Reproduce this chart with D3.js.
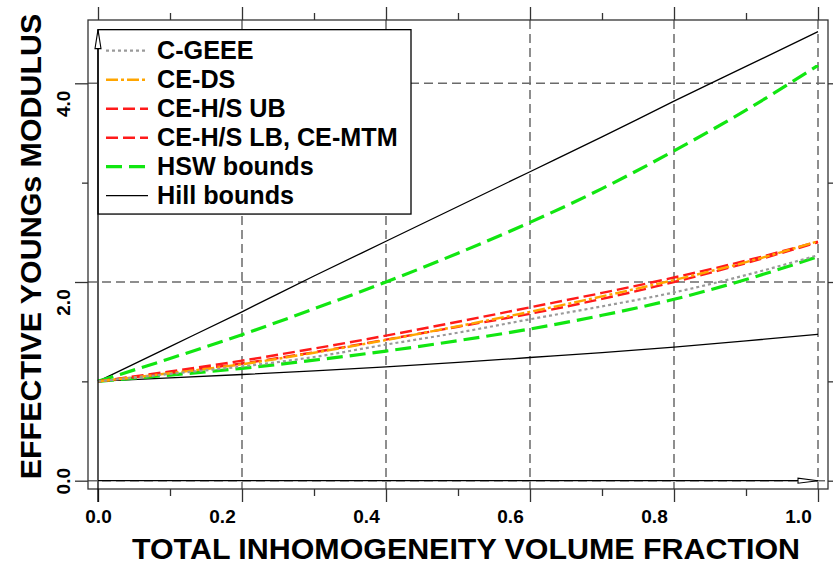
<!DOCTYPE html>
<html>
<head>
<meta charset="utf-8">
<script src="https://cdn.jsdelivr.net/npm/d3@7"></script>
<style>
  html, body { margin: 0; padding: 0; background: #fff; }
  svg { display: block; font-family: "Liberation Sans", Arial, Helvetica, sans-serif; font-weight: bold; }
</style>
</head>
<body>
<svg id="chart" width="833" height="564"></svg>
<script>
// Volume fraction of the inhomogeneities
const fraction = [0, 0.1, 0.2, 0.3, 0.4, 0.5, 0.6, 0.7, 0.8, 0.9, 1.0];

// Effective Young's modulus estimates and bounds
const cGEEE     = [1.00, 1.075, 1.150, 1.245, 1.370, 1.490, 1.625, 1.755, 1.895, 2.070, 2.270];
const ceDS      = [1.00, 1.082, 1.172, 1.288, 1.416, 1.555, 1.700, 1.855, 2.020, 2.200, 2.410];
const ceHSUB    = [1.00, 1.100, 1.208, 1.330, 1.460, 1.600, 1.745, 1.890, 2.045, 2.215, 2.406];
const ceHSLB    = [1.00, 1.085, 1.180, 1.293, 1.420, 1.550, 1.680, 1.830, 2.000, 2.190, 2.400];
const hswUpper  = [1.00, 1.230, 1.470, 1.730, 2.000, 2.290, 2.600, 2.940, 3.320, 3.730, 4.180];
const hswLower  = [1.00, 1.063, 1.131, 1.213, 1.305, 1.410, 1.527, 1.665, 1.826, 2.025, 2.255];
const hillUpper = [1.00, 1.350, 1.700, 2.060, 2.410, 2.760, 3.110, 3.460, 3.820, 4.170, 4.520];
const hillLower = [1.00, 1.034, 1.069, 1.106, 1.146, 1.190, 1.240, 1.290, 1.345, 1.407, 1.474];

// Axis ticks
const xMajor = [0, 0.2, 0.4, 0.6, 0.8, 1.0];
const xMinor = [0.1, 0.3, 0.5, 0.7, 0.9];
const yMajor = [0, 2, 4];
const yMinor = [1, 3];
const yArrowTop = 4.54;

const legendLabels = ["C-GEEE", "CE-DS", "CE-H/S UB", "CE-H/S LB, CE-MTM", "HSW bounds", "Hill bounds"];

const styleOf = {
  "C-GEEE":            { color: "#9a9a9a", width: 2.2, dash: "3,3" },
  "CE-DS":             { color: "#ffa500", width: 2.4, dash: "12,3,3,3" },
  "CE-H/S UB":         { color: "#ff1a1a", width: 2.4, dash: "12,5" },
  "CE-H/S LB, CE-MTM": { color: "#ff1a1a", width: 2.4, dash: "12,5" },
  "HSW bounds":        { color: "#11e611", width: 3.2, dash: "16,7" },
  "Hill bounds":       { color: "#000",    width: 1.3, dash: null }
};

const series = [
  { name: "Hill bounds", values: hillUpper },
  { name: "Hill bounds", values: hillLower },
  { name: "HSW bounds", values: hswUpper },
  { name: "HSW bounds", values: hswLower },
  { name: "CE-H/S UB", values: ceHSUB },
  { name: "CE-H/S LB, CE-MTM", values: ceHSLB },
  { name: "CE-DS", values: ceDS },
  { name: "C-GEEE", values: cGEEE }
];

const svg = d3.select("#chart");

const frame = { left: 88, right: 828, top: 20, bottom: 489 };
const x = d3.scaleLinear().domain([0, 1]).range([98, 818]);
const y = d3.scaleLinear().domain([0, 4]).range([480.7, 83.3]);

const gridColor = "#6a6a6a";

// Dashed grid
svg.append("g").selectAll("line").data(xMajor.filter(d => d > 0)).join("line")
  .attr("x1", d => x(d)).attr("x2", d => x(d))
  .attr("y1", frame.top).attr("y2", frame.bottom)
  .attr("stroke", gridColor).attr("stroke-width", 1.5).attr("stroke-dasharray", "9,5");
svg.append("g").selectAll("line").data(yMajor).join("line")
  .attr("x1", frame.left).attr("x2", frame.right)
  .attr("y1", d => y(d)).attr("y2", d => y(d))
  .attr("stroke", gridColor).attr("stroke-width", 1.5).attr("stroke-dasharray", "9,5");

// Frame
svg.append("rect")
  .attr("x", frame.left).attr("y", frame.top)
  .attr("width", frame.right - frame.left).attr("height", frame.bottom - frame.top)
  .attr("fill", "none").attr("stroke", "#333").attr("stroke-width", 1.3);

function styleAxis(g) {
  g.select(".domain").remove();
  g.selectAll(".tick line").attr("stroke", "#333").attr("stroke-width", 1.3);
}

// Bottom axis with labels
const bottom = svg.append("g").attr("transform", `translate(0,${frame.bottom})`)
  .call(d3.axisBottom(x).tickValues(xMajor).tickSize(13).tickFormat(d3.format(".1f")))
  .call(styleAxis);
bottom.selectAll(".tick text")
  .attr("y", 33.7).attr("dy", null)
  .attr("x", d => d > 0 ? -20 : 0)
  .attr("fill", "#000")
  .style("font-size", "19px").style("font-weight", "bold")
  .style("font-family", "'Liberation Sans', Arial, sans-serif");
svg.append("g").attr("transform", `translate(0,${frame.bottom})`)
  .call(d3.axisBottom(x).tickValues(xMinor).tickSize(7).tickFormat(""))
  .call(styleAxis);

// Top axis
svg.append("g").attr("transform", `translate(0,${frame.top})`)
  .call(d3.axisTop(x).tickValues(xMajor).tickSize(13).tickFormat(""))
  .call(styleAxis);
svg.append("g").attr("transform", `translate(0,${frame.top})`)
  .call(d3.axisTop(x).tickValues(xMinor).tickSize(7).tickFormat(""))
  .call(styleAxis);

// Left axis with rotated labels
const left = svg.append("g").attr("transform", `translate(${frame.left},0)`)
  .call(d3.axisLeft(y).tickValues(yMajor).tickSize(13).tickFormat(d3.format(".1f")))
  .call(styleAxis);
left.selectAll(".tick text")
  .attr("x", 0).attr("y", 0).attr("dy", null)
  .attr("text-anchor", "middle")
  .attr("transform", d => `translate(${69.5 - frame.left},${d > 0 ? 20 : 0}) rotate(-90)`)
  .attr("fill", "#000")
  .style("font-size", "19px").style("font-weight", "bold")
  .style("font-family", "'Liberation Sans', Arial, sans-serif");
svg.append("g").attr("transform", `translate(${frame.left},0)`)
  .call(d3.axisLeft(y).tickValues(yMinor).tickSize(6).tickFormat(""))
  .call(styleAxis);

// Right axis
svg.append("g").attr("transform", `translate(${frame.right},0)`)
  .call(d3.axisRight(y).tickValues(yMajor).tickSize(13).tickFormat(""))
  .call(styleAxis);
svg.append("g").attr("transform", `translate(${frame.right},0)`)
  .call(d3.axisRight(y).tickValues(yMinor).tickSize(6).tickFormat(""))
  .call(styleAxis);

// Curves
const line = d3.line().x((d, i) => x(fraction[i])).y(d => y(d)).curve(d3.curveMonotoneX);
svg.append("g").selectAll("path").data(series).join("path")
  .attr("d", d => line(d.values))
  .attr("fill", "none")
  .attr("stroke", d => styleOf[d.name].color)
  .attr("stroke-width", d => styleOf[d.name].width)
  .attr("stroke-dasharray", d => styleOf[d.name].dash);

// Legend
const legend = svg.append("g");
legend.append("rect")
  .attr("x", x(0)).attr("y", y(yArrowTop))
  .attr("width", 313).attr("height", 184.4)
  .attr("fill", "#fff").attr("stroke", "#000").attr("stroke-width", 1.3);
const rows = legend.selectAll("g.row").data(legendLabels).join("g")
  .attr("transform", (d, i) => `translate(0,${59.3 + 29 * i})`);
rows.append("line")
  .attr("x1", 106).attr("x2", 148).attr("y1", -8.6).attr("y2", -8.6)
  .attr("stroke", d => styleOf[d].color)
  .attr("stroke-width", d => styleOf[d].width)
  .attr("stroke-dasharray", d => styleOf[d].dash);
rows.append("text")
  .attr("x", 157).attr("y", 0)
  .style("font-size", "25.2px")
  .text(d => d);

// Axis arrows
const arrow = svg.append("g").attr("stroke", "#000").attr("stroke-width", 1.3);
arrow.append("line")
  .attr("x1", x(0)).attr("x2", x(1)).attr("y1", y(0)).attr("y2", y(0));
arrow.append("line")
  .attr("x1", x(0)).attr("x2", x(0)).attr("y1", frame.bottom + 13).attr("y2", y(yArrowTop));
arrow.append("path")
  .attr("d", `M${x(1)},${y(0)} L${x(1) - 20},${y(0) - 2.5} L${x(1) - 20},${y(0) + 2.5} Z`)
  .attr("fill", "#fff").attr("stroke-width", 1.1);
arrow.append("path")
  .attr("d", `M${x(0)},${y(yArrowTop)} L${x(0) - 3},${y(yArrowTop) + 19} L${x(0) + 3},${y(yArrowTop) + 19} Z`)
  .attr("fill", "#fff").attr("stroke-width", 1.1);

// Axis titles
svg.append("text")
  .attr("x", 466).attr("y", 558.5)
  .attr("text-anchor", "middle")
  .style("font-size", "30.4px")
  .text("TOTAL INHOMOGENEITY VOLUME FRACTION");
svg.append("text")
  .attr("transform", "translate(40.5,246.5) rotate(-90)")
  .attr("text-anchor", "middle")
  .style("font-size", "30.4px")
  .text("EFFECTIVE YOUNGs MODULUS");
</script>
</body>
</html>
